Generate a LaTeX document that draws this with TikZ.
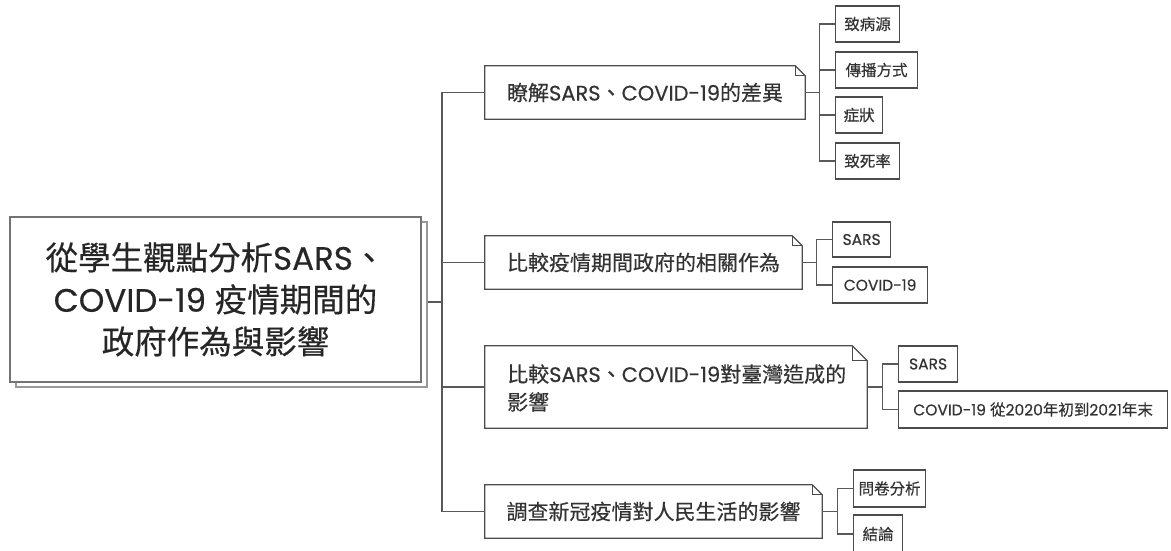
\documentclass[tikz,border=0pt]{standalone}
\usepackage{fontspec}
\setmainfont{Poppins}[FakeBold=0.4]
\newfontfamily\cjk{Noto Sans CJK TC}[FakeBold=0.4]
\begin{document}
\begin{tikzpicture}[x=1pt,y=-1pt,
  conn/.style={draw=black!65, line width=1.1pt},
  boxline/.style={draw=black!70, line width=1.2pt},
  rootbox/.style={draw=black!55, line width=1.6pt, fill=white, minimum width=411pt, minimum height=165pt, inner sep=0pt},
  branch/.style={inner sep=0pt, align=center, font=\fontsize{21}{28}\selectfont, text=black!80},
  leaf/.style={boxline, fill=white, anchor=west, inner xsep=0pt, inner ysep=0pt, minimum height=36pt, font=\fontsize{15.5}{18}\selectfont, text=black!80}
]
\useasboundingbox (0,0) rectangle (1171,551);
% root
\node[rootbox, draw=black!40] (rootback) at (221.5,304.5) {};
\node[rootbox, align=center, font=\fontsize{32.5}{42}\selectfont, text=black!85] (root) at (215.5,299.5)
  {{\cjk 從學生觀點分析}SARS{\cjk 、}\\COVID-19 {\cjk 疫情期間的}\\{\cjk 政府作為與影響}};
% branches
\node[branch, minimum width=320pt, minimum height=53pt] (b1) at (645,92.5)
  {{\cjk 瞭解}SARS{\cjk 、}COVID-19{\cjk 的差異}};
\node[branch, minimum width=317pt, minimum height=53pt] (b2) at (643.5,262.5)
  {\cjk 比較疫情期間政府的相關作為};
\node[branch, minimum width=382pt, minimum height=82pt] (b3) at (676,387) {};
\node[branch, anchor=west, align=left] (b3t) at (507,388)
  {{\cjk 比較}SARS{\cjk 、}COVID-19{\cjk 對臺灣造成的}\\{\cjk 影響}};
\node[branch, minimum width=337pt, minimum height=53pt] (b4) at (653.5,511.5)
  {\cjk 調查新冠疫情對人民生活的影響};
\foreach \n/\f in {b1/10,b2/10,b3/15,b4/10}{
  \draw[boxline] (\n.south west) -- (\n.north west) -- ([xshift=-\f pt]\n.north east)
     -- ([yshift=-\f pt]\n.north east) -- (\n.south east) -- cycle;
  \draw[boxline, line width=0.8pt] ([xshift=-\f pt]\n.north east) -- ([xshift=-\f pt,yshift=-\f pt]\n.north east)
     -- ([yshift=-\f pt]\n.north east);
}
% leaves
\node[leaf, minimum width=64pt] (s11) at (835,24) {\cjk 致病源};
\node[leaf, minimum width=82pt] (s12) at (835,70) {\cjk 傳播方式};
\node[leaf, minimum width=47pt] (s13) at (835,115) {\cjk 症狀};
\node[leaf, minimum width=64pt] (s14) at (835,161) {\cjk 致死率};
\node[leaf, minimum width=58pt, minimum height=35pt] (s21) at (832,239.5) {SARS};
\node[leaf, minimum width=95pt] (s22) at (832,285) {COVID-19};
\node[leaf, minimum width=59pt] (s31) at (898,364) {SARS};
\node[leaf, minimum width=269pt, minimum height=37pt] (s32) at (898,409.5) {COVID-19 {\cjk 從}2020{\cjk 年初到}2021{\cjk 年末}};
\node[leaf, minimum width=72pt, minimum height=37pt] (s41) at (853,488.5) {\cjk 問卷分析};
\node[leaf, minimum width=49pt, minimum height=38pt] (s42) at (853,534) {\cjk 結論};
% connectors root -> branches
\coordinate (tr) at (442,302);
\draw[conn] (rootback.east |- tr) -- (tr);
\draw[conn] (tr) |- (b1.west);
\draw[conn] (tr) |- (b2.west);
\draw[conn] (tr) |- (b3.west);
\draw[conn] (tr) |- (b4.west);
% branch -> leaves
\draw[conn] (b1.east) -- ++(14,0) coordinate (j1);
\draw[conn] (j1) |- (s11.west);
\draw[conn] (j1) |- (s12.west);
\draw[conn] (j1) |- (s13.west);
\draw[conn] (j1) |- (s14.west);
\draw[conn] (b2.east) -- ++(14,0) coordinate (j2);
\draw[conn] (j2) |- (s21.west);
\draw[conn] (j2) |- (s22.west);
\draw[conn] (b3.east) -- ++(15,0) coordinate (j3);
\draw[conn] (j3) |- (s31.west);
\draw[conn] (j3) |- (s32.west);
\draw[conn] (b4.east) -- ++(15,0) coordinate (j4);
\draw[conn] (j4) |- (s41.west);
\draw[conn] (j4) |- (s42.west);
\end{tikzpicture}
\end{document}
